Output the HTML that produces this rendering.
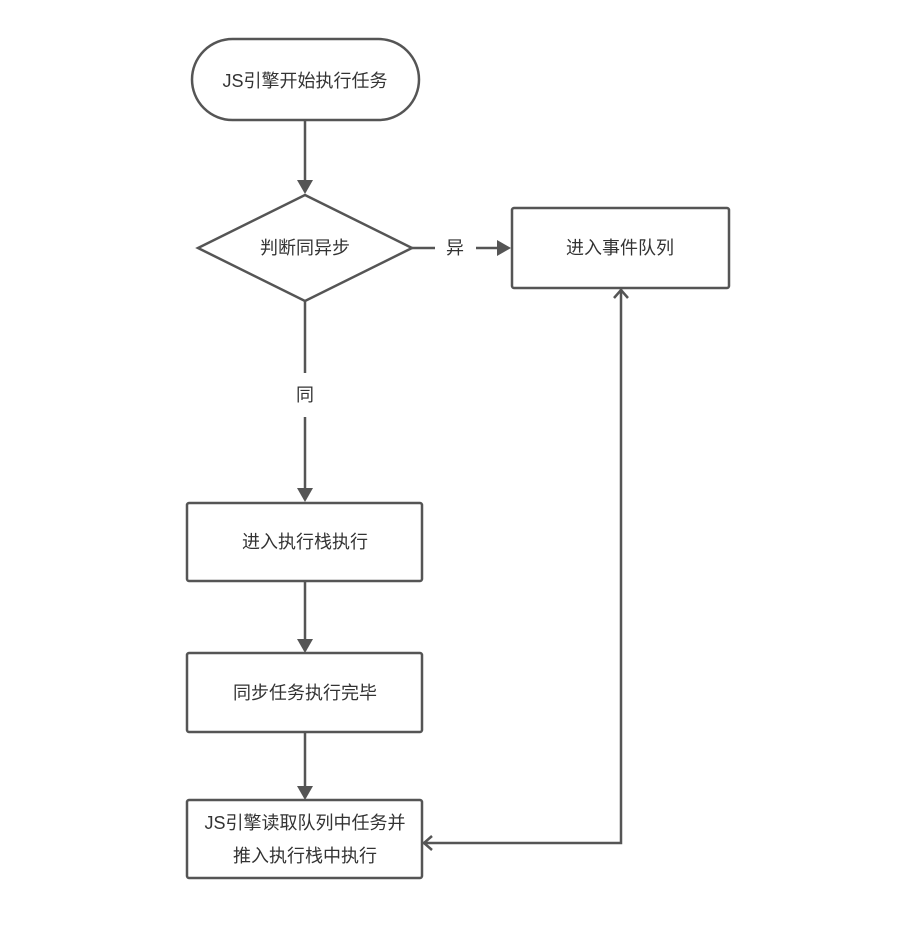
<!DOCTYPE html>
<html><head><meta charset="utf-8"><style>
html,body{margin:0;padding:0;background:#fff;}
svg{display:block;}
text{font-family:"Liberation Sans","Noto Sans CJK SC",sans-serif;font-size:18px;fill:#333;text-anchor:middle;dominant-baseline:central;}
</style></head><body>
<svg width="900" height="934" viewBox="0 0 900 934" xmlns="http://www.w3.org/2000/svg">
<rect width="900" height="934" fill="#fff"/>
<g stroke="#555" stroke-width="2.5" fill="none">
<rect x="192" y="39" width="227" height="81" rx="40.5" fill="#fff"/>
<polygon points="305,195 412,248 305,301 198,248" fill="#fff"/>
<rect x="512" y="208" width="217" height="80" rx="2" fill="#fff"/>
<rect x="187" y="503" width="235" height="78" rx="2" fill="#fff"/>
<rect x="187" y="653" width="235" height="79" rx="2" fill="#fff"/>
<rect x="187" y="800" width="235" height="78" rx="2" fill="#fff"/>
<line x1="305" y1="120" x2="305" y2="183"/>
<line x1="412" y1="248" x2="435" y2="248"/>
<line x1="476" y1="248" x2="499" y2="248"/>
<line x1="305" y1="301" x2="305" y2="373"/>
<line x1="305" y1="417" x2="305" y2="490"/>
<line x1="305" y1="581" x2="305" y2="641"/>
<line x1="305" y1="732" x2="305" y2="788"/>
<polyline points="423,843 621,843 621,289"/>
<polyline points="432,836 424,843 432,850"/>
<polyline points="614,298 621,290 628,298"/>
</g>
<g fill="#555">
<polygon points="297,180 313,180 305,194"/>
<polygon points="497,240 497,256 511,248"/>
<polygon points="297,488 313,488 305,502"/>
<polygon points="297,639 313,639 305,653"/>
<polygon points="297,786 313,786 305,800"/>
</g>
<text x="305" y="81">JS引擎开始执行任务</text>
<text x="305" y="248">判断同异步</text>
<text x="455" y="248">异</text>
<text x="620" y="248">进入事件队列</text>
<text x="305" y="395">同</text>
<text x="305" y="542">进入执行栈执行</text>
<text x="305" y="693">同步任务执行完毕</text>
<text x="305" y="823">JS引擎读取队列中任务并</text>
<text x="305" y="856">推入执行栈中执行</text>
</svg>
</body></html>
